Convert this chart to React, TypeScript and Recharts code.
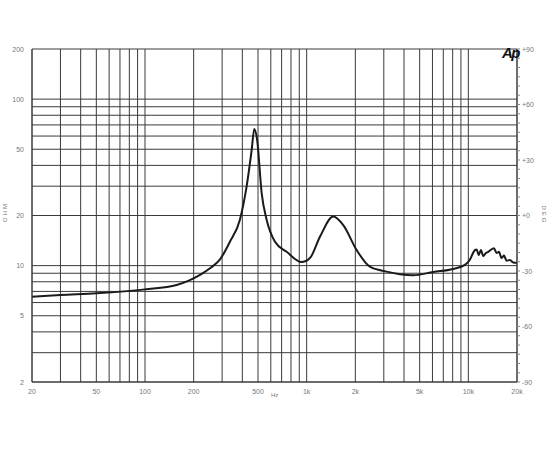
import { LineChart, Line, XAxis, YAxis, CartesianGrid } from "recharts"

// frecuencia (Hz) e impedancia (ohm)
const freqs = [
  20, 30, 50, 100, 157, 185, 219, 255, 291, 335, 386, 425, 457, 474, 494, 527, 566, 637, 752, 930,
  1048, 1208, 1460, 1684, 2038, 2460, 3122, 3776, 4560, 6063, 8060, 9520, 10200, 10980, 11250,
  11600, 11970, 12360, 12840, 13270, 13700, 14400, 14960, 15460, 16070, 16600, 17250, 18080, 18950,
  20000,
]
const ohms = [
  6.5, 6.66, 6.82, 7.2, 7.65, 8.1, 8.8, 9.7, 10.9, 13.9, 18.8, 29.8, 49.5, 66.2, 56.8, 27.2, 18.8,
  13.9, 12.1, 10.5, 11.1, 14.9, 19.7, 17.5, 12.4, 9.85, 9.2, 8.87, 8.75, 9.16, 9.55, 10.1, 10.8,
  12.4, 12.5, 11.6, 12.4, 11.4, 11.9, 12.1, 12.4, 12.7, 11.9, 12.1, 11.1, 11.5, 10.7, 10.8, 10.45,
  10.4,
]

const xGrid = [
  20, 30, 40, 50, 60, 70, 80, 90, 100, 200, 300, 400, 500, 600, 700, 800, 900, 1000, 2000, 3000,
  4000, 5000, 6000, 7000, 8000, 9000, 10000, 20000,
]
const xLabels: Record<number, string> = {
  20: "20", 50: "50", 100: "100", 200: "200", 500: "500",
  1000: "1k", 2000: "2k", 5000: "5k", 10000: "10k", 20000: "20k",
}
const yGrid = [2, 3, 4, 5, 6, 7, 8, 9, 10, 20, 30, 40, 50, 60, 70, 80, 90, 100, 200]
const yLabels = [2, 5, 10, 20, 50, 100, 200]
const degTicks = Array.from({ length: 37 }, (_, i) => -90 + i * 5)
const degLabels = [-90, -60, -30, 0, 30, 60, 90]

const data = freqs.map((f, i) => ({ f, z: ohms[i] }))

const FONT = "Liberation Sans, Arial, sans-serif"
const GRID = "#3a3a3a"
const TXT = "#777"

const XTick = ({ x, y, payload }: any) => {
  const label = xLabels[payload.value]
  if (!label) return null
  return (
    <text x={x} y={y + 4} fontSize={7} fill={TXT} fontFamily={FONT} textAnchor="middle">
      {label}
    </text>
  )
}

const YTick = ({ x, y, payload }: any) => {
  if (!yLabels.includes(payload.value)) return null
  return (
    <text x={x} y={y + 2.5} fontSize={7} fill={TXT} fontFamily={FONT} textAnchor="end">
      {payload.value}
    </text>
  )
}

const DegTick = ({ x, y, payload }: any) => {
  const v = payload.value
  if (!degLabels.includes(v)) return null
  const label = v > 0 ? `+${v}` : v === 0 ? "+0" : `${v}`
  return (
    <text x={x} y={y + 2.5} fontSize={7} fill={TXT} fontFamily={FONT} textAnchor="start">
      {label}
    </text>
  )
}

export default function App() {
  return (
    <div style={{ position: "absolute", left: 0, top: 0, width: 550, height: 450, background: "#fff" }}>
      <LineChart width={550} height={450} data={data} margin={{ top: 49, right: 0, left: 0, bottom: 48 }}>
        <CartesianGrid stroke={GRID} strokeWidth={1} horizontalValues={yGrid} verticalValues={xGrid} />
        <XAxis
          dataKey="f"
          type="number"
          scale="log"
          domain={[20, 20000]}
          ticks={xGrid}
          interval={0}
          tick={<XTick />}
          tickLine={false}
          axisLine={{ stroke: GRID }}
          height={20}
          allowDataOverflow
        />
        <YAxis
          type="number"
          scale="log"
          domain={[2, 200]}
          ticks={yGrid}
          interval={0}
          tick={<YTick />}
          tickLine={false}
          axisLine={{ stroke: GRID }}
          width={32}
          allowDataOverflow
        />
        <YAxis
          yAxisId="deg"
          orientation="right"
          type="number"
          domain={[-90, 90]}
          ticks={degTicks}
          interval={0}
          tick={<DegTick />}
          tickSize={3}
          tickLine={{ stroke: "#888" }}
          axisLine={{ stroke: GRID }}
          width={33}
          allowDataOverflow
        />
        <Line
          dataKey="z"
          type="monotone"
          stroke="#1a1a1a"
          strokeWidth={2}
          dot={false}
          isAnimationActive={false}
        />
        <Line
          yAxisId="deg"
          dataKey="phase"
          stroke="none"
          dot={false}
          legendType="none"
          isAnimationActive={false}
        />
      </LineChart>
      <div
        style={{
          position: "absolute", left: 502, top: 44, fontFamily: FONT, fontWeight: "bold",
          fontStyle: "italic", fontSize: 15, color: "#111", letterSpacing: -1.5,
        }}
      >
        Ap
      </div>
      <div style={{ position: "absolute", left: 271, top: 392, fontFamily: FONT, fontSize: 6, color: TXT }}>
        Hz
      </div>
      <div
        style={{
          position: "absolute", left: 5, top: 212, fontFamily: FONT, fontSize: 6, color: TXT,
          transform: "translate(-50%, -50%) rotate(-90deg)", letterSpacing: 2,
        }}
      >
        OHM
      </div>
      <div
        style={{
          position: "absolute", left: 544, top: 215, fontFamily: FONT, fontSize: 6, color: TXT,
          transform: "translate(-50%, -50%) rotate(90deg)", letterSpacing: 2,
        }}
      >
        DEG
      </div>
    </div>
  )
}
